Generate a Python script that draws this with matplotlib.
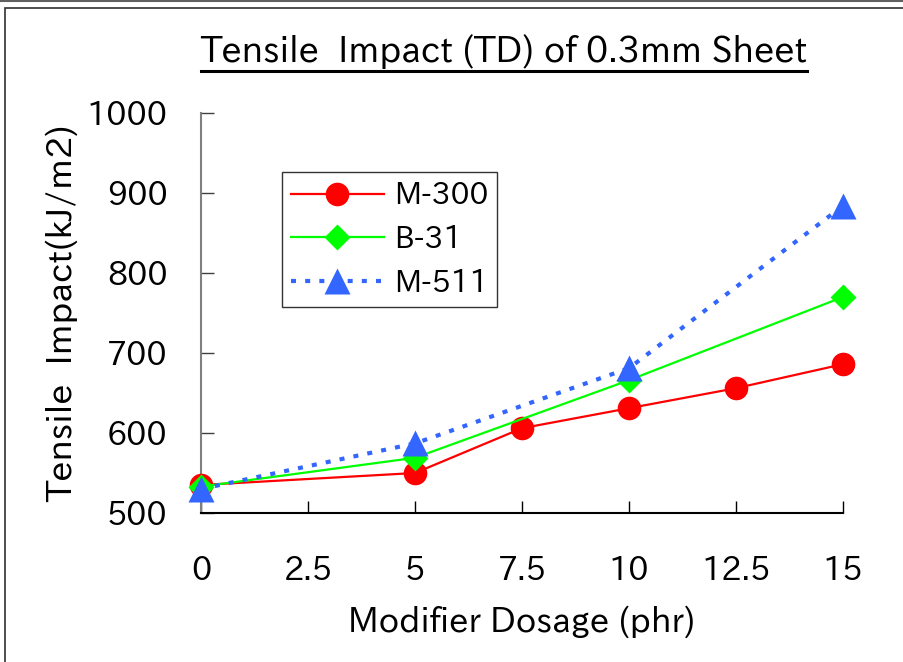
import matplotlib
matplotlib.use("Agg")
import matplotlib.pyplot as plt
from matplotlib.lines import Line2D
from matplotlib.patches import Rectangle

# data
dosage = [0, 5, 7.5, 10, 12.5, 15]
m300 = [535, 550, 606, 631, 656, 686]
b31_dosage = [0, 5, 10, 15]
b31 = [533, 569, 666, 770]
m511_dosage = [0, 5, 10, 15]
m511 = [530, 587, 681, 884]
x_ticks = [0, 2.5, 5, 7.5, 10, 12.5, 15]
x_tick_labels = ["0", "2.5", "5", "7.5", "10", "12.5", "15"]
y_ticks = [500, 600, 700, 800, 900, 1000]

plt.rcParams["font.family"] = ["IPAPGothic", "DejaVu Sans"]

W, H = 904, 662
fig = plt.figure(figsize=(W / 100, H / 100), dpi=100)
ax = fig.add_axes([201 / W, 1 - 513 / H, (843 - 201) / W, (513 - 113) / H])

ax.plot(dosage, m300, color="#FF0000", lw=1.6, marker="o", ms=17,
        mec="none", label="M-300", clip_on=False, zorder=3)
ax.plot(b31_dosage, b31, color="#00FF00", lw=1.6, marker="D", ms=13,
        mec="none", label="B-31", clip_on=False, zorder=4)
ax.plot(m511_dosage, m511, color="#3366FF", lw=3, ls=(0, (1.2, 2.2)),
        marker="^", ms=19, mec="none", label="M-511", clip_on=False, zorder=5)

ax.set_xlim(0, 15)
ax.set_ylim(500, 1000)
ax.set_xticks(x_ticks)
ax.set_xticklabels(x_tick_labels)
ax.set_yticks(y_ticks)
ax.tick_params(axis="both", direction="in", length=9, width=1, labelsize=23)
ax.tick_params(axis="x", pad=31)
ax.tick_params(axis="y", pad=24, color="#404040")
for side in ("top", "right"):
    ax.spines[side].set_visible(False)
ax.spines["left"].set_color("#808080")
ax.spines["left"].set_linewidth(1.5)
ax.spines["bottom"].set_color("black")
ax.spines["bottom"].set_linewidth(1.5)

ax.set_xlabel("Modifier Dosage (phr)", fontsize=24.5, labelpad=14)
ax.set_ylabel("Tensile  Impact(kJ/m2)", fontsize=25.5, labelpad=6.5)

leg = ax.legend(loc="upper left", bbox_to_anchor=((282 - 201) / 642, 1 - (172 - 113) / 400),
                fontsize=21.5, frameon=True, fancybox=False, edgecolor="black",
                handlelength=3.1, labelspacing=0.5, borderpad=0.3,
                handletextpad=0.35, borderaxespad=0)
leg.get_frame().set_linewidth(1.0)

title = fig.text(504 / W, 1 - 52 / H, "Tensile  Impact (TD) of 0.3mm Sheet",
                 fontsize=25.6, ha="center", va="center")

# underline under the title
renderer = fig.canvas.get_renderer()
bb = title.get_window_extent(renderer)
y_ul = (bb.y0 - 2) / H
fig.add_artist(Line2D([bb.x0 / W, bb.x1 / W], [y_ul, y_ul], color="black", lw=2.2))

# outer frame like the chart area border
fig.add_artist(Rectangle((5 / W, -0.05), 1.2, 1 - 8 / H + 0.05,
                         fill=False, edgecolor="#303030", lw=1.2,
                         transform=fig.transFigure))
fig.add_artist(Line2D([0, 1], [1 - 1 / H, 1 - 1 / H], color="#606060", lw=1.5))

fig.savefig("out.png", dpi=100)
